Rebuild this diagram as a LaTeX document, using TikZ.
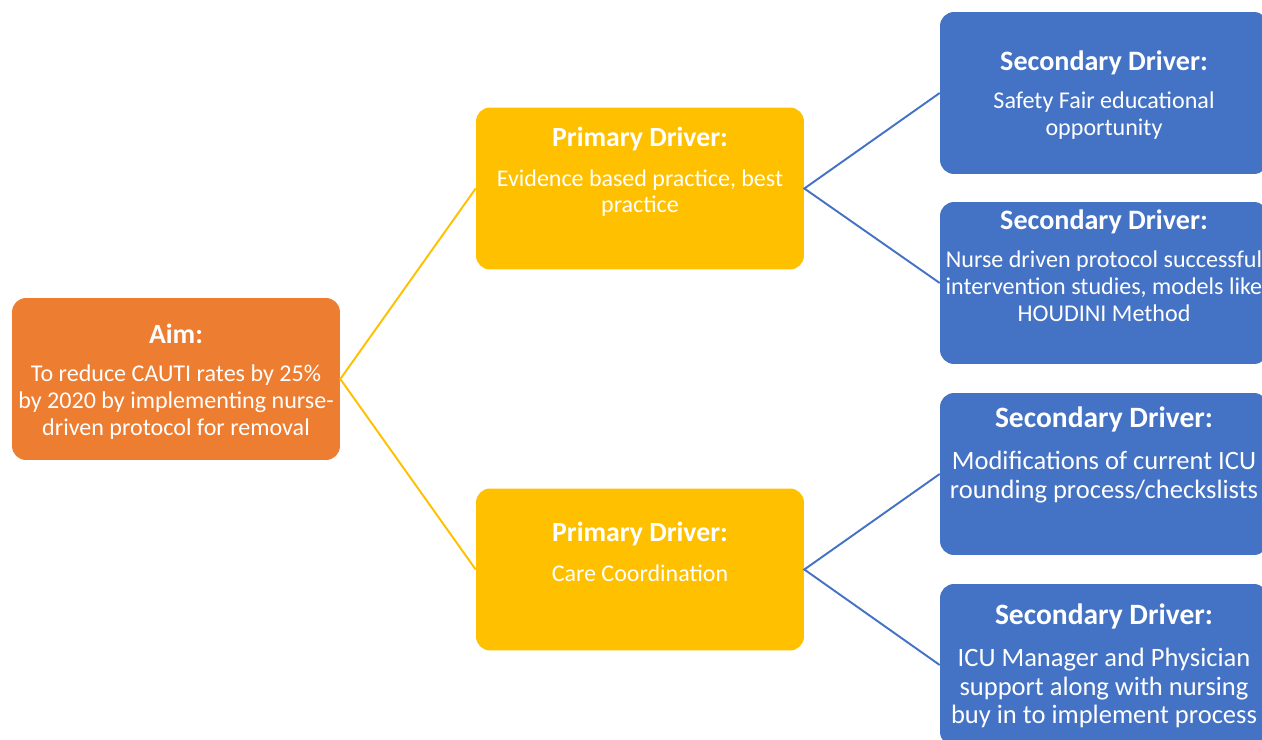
\documentclass[tikz,border=0pt]{standalone}
\usepackage{fontspec}
\setmainfont{Carlito}
\usetikzlibrary{calc}
\definecolor{aimorange}{HTML}{ED7D31}
\definecolor{drvyellow}{HTML}{FFC000}
\definecolor{drvblue}{HTML}{4472C4}
\tikzset{
  card/.style={fill=#1, rounded corners=0.28cm, minimum width=6.56cm, minimum height=3.24cm},
  txt/.style={text=white, align=center, inner sep=0pt},
  smalltxt/.style={txt, font=\fontsize{13.7}{15.3}\selectfont},
  bigtxt/.style={txt, font=\fontsize{15.1}{16.4}\selectfont},
  link/.style={draw=#1, line width=1.1pt},
}
\newcommand{\drvhead}[2]{{\bfseries\fontsize{#1}{15}\selectfont #2}}

\begin{document}
\begin{tikzpicture}[x=0.02cm, y=-0.02cm]
    \clip (0,0) rectangle (1262,740);
    % boxes
    \node[card=aimorange] (aim) at (176,379) {};
    \node[card=drvyellow] (p1) at (640,188.5) {};
    \node[card=drvyellow] (p2) at (640,569.5) {};
    \foreach \n/\y in {s1/93, s2/283, s3/474, s4/665}
      \node[card=drvblue] (\n) at (1104,\y) {};
    % connectors
    \draw[link=drvyellow] (p1.west) -- (aim.east) -- (p2.west);
    \draw[link=drvblue] (s1.west) -- (p1.east) -- (s2.west);
    \draw[link=drvblue] (s3.west) -- (p2.east) -- (s4.west);
    % texts
    \node[smalltxt] (aimtxt) at ($(aim)+(0,2.5)$) {\drvhead{15.8}{Aim:}\\[6.2pt]
      To reduce CAUTI rates by 25\%\\by 2020 by implementing nurse-\\driven protocol for removal};
    \node[smalltxt, font=\fontsize{13.65}{14.7}\selectfont] (p1txt) at ($(p1)+(0,-17)$) {\drvhead{15.8}{Primary Driver:}\\[8pt]
      Evidence based practice, best\\practice};
    \node[smalltxt, font=\fontsize{13.65}{14.7}\selectfont] (p2txt) at ($(p2)+(0,-18)$) {\drvhead{15.8}{Primary Driver:}\\[8pt]
      Care Coordination};
    \node[smalltxt] (s1txt) at ($(s1)+(0,2)$) {\drvhead{16}{Secondary Driver:}\\[6.2pt]
      Safety Fair educational\\opportunity};
    \node[smalltxt] (s2txt) at ($(s2)+(0,-17.5)$) {\drvhead{16}{Secondary Driver:}\\[6.2pt]
      Nurse driven protocol successful\\intervention studies, models like\\HOUDINI Method};
    \node[bigtxt] (s3txt) at ($(s3)+(0,-19)$) {\drvhead{16.8}{Secondary Driver:}\\[7.4pt]
      Modifications of current ICU\\rounding process/checkslists};
    \node[bigtxt] (s4txt) at ($(s4)+(0,1)$) {\drvhead{16.8}{Secondary Driver:}\\[7.4pt]
      ICU Manager and Physician\\support along with nursing\\buy in to implement process};
\end{tikzpicture}
\end{document}
